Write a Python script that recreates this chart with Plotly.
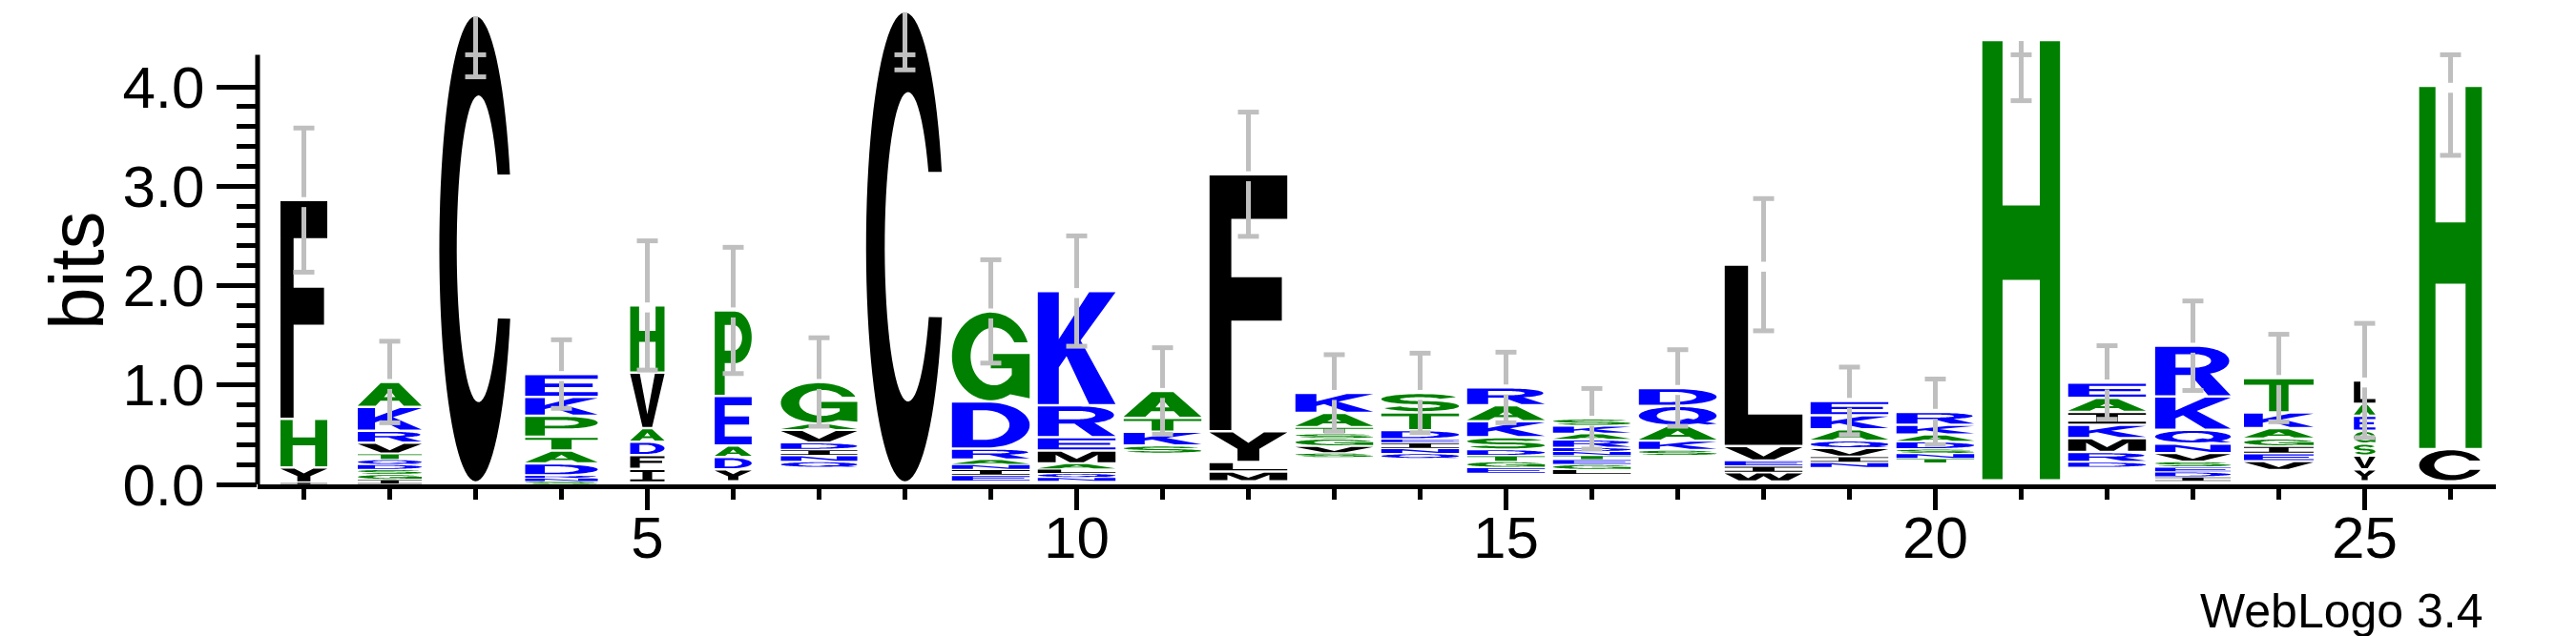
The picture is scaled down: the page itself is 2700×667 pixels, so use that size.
import math
import plotly.graph_objects as go

# ---------------- data ----------------
positions = list(range(1, 27))
# relative stack widths (fraction of non-gap symbols)
stack_widths = [0.545, 0.745, 0.845, 0.845, 0.40, 0.43, 0.89, 0.905, 0.905, 0.905,
                0.905, 0.905, 0.905, 0.905, 0.905, 0.905, 0.905, 0.905, 0.905, 0.905,
                0.905, 0.905, 0.88, 0.81, 0.25, 0.73]
# letters per stack, bottom -> top ('.' = residues too small to render)
stack_letters = [
    "IYHF", "IGSDQTVRKA", ".C", "SNRDATPKE", ".IFDAVH", ".YDAEP", ".QNIDVAG", ".C",
    ".EINARDG", ".NQLAMERK", ".SKTA", ".MLYF", ".SVGSTAK", ".QNIEDTS", ".EGTDSKAR",
    ".LGETNDRAKS", ".SKAQD", ".WIEVL", ".NIVQAKE", ".TNSDAKR", ".H", ".DRMKIAE",
    ".IDESVNQKR", ".VEIGAKT", ".YVSGEAL", ".CH",
]
stack_bits = [
    [0.02, 0.15, 0.49, 2.20],
    [0.05, 0.05, 0.05, 0.05, 0.05, 0.06, 0.11, 0.12, 0.24, 0.25],
    [0.02, 4.70],
    [0.03, 0.03, 0.03, 0.12, 0.13, 0.14, 0.21, 0.19, 0.23],
    [0.02, 0.135, 0.14, 0.135, 0.135, 0.56, 0.675],
    [0.03, 0.12, 0.125, 0.115, 0.50, 0.86],
    [0.17, 0.06, 0.06, 0.06, 0.07, 0.13, 0.06, 0.42],
    [0.02, 4.74],
    [0.03, 0.06, 0.06, 0.05, 0.05, 0.11, 0.475, 0.905],
    [0.03, 0.04, 0.04, 0.045, 0.055, 0.13, 0.135, 0.32, 1.15],
    [0.31, 0.08, 0.14, 0.14, 0.27],
    [0.03, 0.10, 0.095, 0.31, 2.585],
    [0.27, 0.045, 0.07, 0.075, 0.05, 0.065, 0.145, 0.20],
    [0.26, 0.05, 0.05, 0.06, 0.035, 0.09, 0.18, 0.195],
    [0.11, 0.06, 0.06, 0.06, 0.06, 0.125, 0.16, 0.16, 0.18],
    [0.10, 0.05, 0.05, 0.05, 0.04, 0.04, 0.04, 0.08, 0.06, 0.08, 0.07],
    [0.29, 0.055, 0.095, 0.15, 0.20, 0.18],
    [0.03, 0.09, 0.065, 0.055, 0.145, 1.825],
    [0.17, 0.05, 0.06, 0.085, 0.075, 0.115, 0.14, 0.145],
    [0.215, 0.045, 0.05, 0.045, 0.075, 0.07, 0.10, 0.13],
    [0.04, 4.43],
    [0.17, 0.055, 0.10, 0.14, 0.135, 0.13, 0.14, 0.155],
    [0.03, 0.045, 0.05, 0.05, 0.055, 0.085, 0.095, 0.14, 0.335, 0.51],
    [0.145, 0.09, 0.075, 0.075, 0.075, 0.105, 0.16, 0.345],
    [0.03, 0.12, 0.14, 0.12, 0.13, 0.15, 0.12, 0.235],
    [0.03, 0.325, 3.655],
]
error_bits = [0.725, 0.41, 0.62, 0.345, 0.65, 0.635, 0.445, 0.59, 0.52, 0.555,
              0.435, 0.625, 0.385, 0.40, 0.355, 0.305, 0.385, 0.665, 0.34, 0.33,
              0.61, 0.37, 0.45, 0.44, 0.575, 0.70]
y_tick_values = [0, 1, 2, 3, 4]
y_tick_labels = ["0.0", "1.0", "2.0", "3.0", "4.0"]
x_tick_values = [5, 10, 15, 20, 25]

YMAX_AXIS = math.log2(20)

# hydrophobicity colour scheme
COLORS = {}
for c in "SGHTAP":
    COLORS[c] = "#008000"
for c in "RKDENQ":
    COLORS[c] = "#0000ff"
for c in "YVMCLFIW":
    COLORS[c] = "#000000"

# ---------------- glyph outlines (unit box) ----------------
def ell(cx, cy, rx, ry, a0, a1, n=40):
    pts = []
    for i in range(n + 1):
        a = math.radians(a0 + (a1 - a0) * i / n)
        pts.append((cx + rx * math.cos(a), cy + ry * math.sin(a)))
    return pts


def stroke(center, hx, hy):
    left, right = [], []
    n = len(center)
    for i, (x, y) in enumerate(center):
        if i == 0:
            dx, dy = center[1][0] - x, center[1][1] - y
        elif i == n - 1:
            dx, dy = x - center[i - 1][0], y - center[i - 1][1]
        else:
            dx, dy = center[i + 1][0] - center[i - 1][0], center[i + 1][1] - center[i - 1][1]
        sx, sy = dx / hx, dy / hy
        L = math.hypot(sx, sy) or 1.0
        nx, ny = -sy / L, sx / L
        left.append((x + nx * hx, y + ny * hy))
        right.append((x - nx * hx, y - ny * hy))
    return left + right[::-1]


def build_glyphs():
    g = {}
    g["A"] = ([[(0, 0), (0.36, 1), (0.64, 1), (1, 0), (0.72, 0), (0.645, 0.22),
                (0.355, 0.22), (0.28, 0)]],
              [[(0.41, 0.38), (0.59, 0.38), (0.5, 0.70)]])
    g["C"] = ([ell(0.5, 0.5, 0.5, 0.5, 18.66, 342.5, 80) +
               ell(0.54, 0.5, 0.30, 0.33, 333.0, 29.0, 60)], [])
    g["G"] = ([ell(0.5, 0.5, 0.5, 0.5, 18.66, 300, 70) +
               [(1.0, 0.02), (1.0, 0.527), (0.50, 0.527), (0.50, 0.364), (0.77, 0.364), (0.77, 0.288)] +
               ell(0.54, 0.5, 0.30, 0.33, -39.9, -331.0, 60)], [])
    g["D"] = ([[(0, 0), (0, 1), (0.45, 1)] + ell(0.45, 0.5, 0.55, 0.5, 90, -90) + [(0.45, 0)]],
              [[(0.27, 0.17), (0.27, 0.83), (0.42, 0.83)] + ell(0.42, 0.5, 0.32, 0.33, 90, -90) + [(0.42, 0.17)]])
    g["E"] = ([[(0, 0), (0, 1), (1, 1), (1, 0.83), (0.27, 0.83), (0.27, 0.59), (0.93, 0.59),
                (0.93, 0.42), (0.27, 0.42), (0.27, 0.17), (1, 0.17), (1, 0)]], [])
    g["F"] = ([[(0, 0), (0, 1), (1, 1), (1, 0.83), (0.28, 0.83), (0.28, 0.60), (0.93, 0.60),
                (0.93, 0.43), (0.28, 0.43), (0.28, 0)]], [])
    g["H"] = ([[(0, 0), (0, 1), (0.26, 1), (0.26, 0.625), (0.74, 0.625), (0.74, 1), (1, 1),
                (1, 0), (0.74, 0), (0.74, 0.455), (0.26, 0.455), (0.26, 0)]], [])
    g["I"] = ([[(0, 0), (0, 0.17), (0.36, 0.17), (0.36, 0.83), (0, 0.83), (0, 1), (1, 1),
                (1, 0.83), (0.64, 0.83), (0.64, 0.17), (1, 0.17), (1, 0)]], [])
    g["K"] = ([[(0, 0), (0, 1), (0.27, 1), (0.27, 0.58), (0.66, 1), (1, 1), (0.55, 0.57),
                (1, 0), (0.66, 0), (0.37, 0.43), (0.27, 0.33), (0.27, 0)]], [])
    g["L"] = ([[(0, 0), (0, 1), (0.30, 1), (0.30, 0.17), (1, 0.17), (1, 0)]], [])
    g["M"] = ([[(0, 0), (0, 1), (0.30, 1), (0.5, 0.32), (0.70, 1), (1, 1), (1, 0), (0.77, 0),
                (0.77, 0.72), (0.59, 0), (0.41, 0), (0.23, 0.72), (0.23, 0)]], [])
    g["N"] = ([[(0, 0), (0, 1), (0.27, 1), (0.73, 0.33), (0.73, 1), (1, 1), (1, 0), (0.73, 0),
                (0.27, 0.67), (0.27, 0)]], [])
    g["P"] = ([[(0, 0), (0, 1), (0.55, 1)] + ell(0.55, 0.69, 0.45, 0.31, 90, -90) +
               [(0.55, 0.38), (0.27, 0.38), (0.27, 0)]],
              [[(0.27, 0.53), (0.27, 0.84), (0.5, 0.84)] + ell(0.5, 0.685, 0.24, 0.155, 90, -90) + [(0.5, 0.53)]])
    g["Q"] = ([ell(0.5, 0.5, 0.5, 0.5, 0, 360, 80),
               [(0.50, 0.22), (0.63, 0.35), (1.0, 0.05), (0.88, 0.0)]],
              [ell(0.5, 0.5, 0.27, 0.33, 0, 360, 60)])
    g["R"] = ([[(0, 0), (0, 1), (0.55, 1)] + ell(0.55, 0.71, 0.43, 0.29, 90, -90) +
               [(0.55, 0.42), (0.27, 0.42), (0.27, 0)],
               [(0.45, 0.46), (0.72, 0.46), (1.0, 0.0), (0.70, 0.0)]],
              [[(0.27, 0.57), (0.27, 0.85), (0.52, 0.85)] + ell(0.52, 0.71, 0.22, 0.14, 90, -90) + [(0.52, 0.57)]])
    center = ell(0.5, 0.705, 0.38, 0.205, 20, 270, 40) + ell(0.5, 0.295, 0.38, 0.205, 90, -160, 40)[1:]
    g["S"] = ([stroke(center, 0.12, 0.09)], [])
    g["T"] = ([[(0, 0.83), (0, 1), (1, 1), (1, 0.83), (0.64, 0.83), (0.64, 0), (0.36, 0), (0.36, 0.83)]], [])
    g["V"] = ([[(0, 1), (0.28, 1), (0.5, 0.24), (0.72, 1), (1, 1), (0.64, 0), (0.36, 0)]], [])
    g["W"] = ([[(0, 1), (0.2, 1), (0.3, 0.33), (0.41, 1), (0.59, 1), (0.70, 0.33), (0.80, 1),
                (1, 1), (0.82, 0), (0.60, 0), (0.5, 0.62), (0.40, 0), (0.18, 0)]], [])
    g["Y"] = ([[(0, 1), (0.30, 1), (0.5, 0.63), (0.70, 1), (1, 1), (0.64, 0.42), (0.64, 0),
                (0.36, 0), (0.36, 0.42)]], [])
    return g


GLYPHS = build_glyphs()


def signed_area(r):
    s = 0.0
    for i in range(len(r)):
        x1, y1 = r[i]
        x2, y2 = r[(i + 1) % len(r)]
        s += x1 * y2 - x2 * y1
    return s / 2


def oriented(r, ccw):
    return r if (signed_area(r) > 0) == ccw else r[::-1]


def glyph_path(letter, xc, w, y0, y1):
    solids, holes = GLYPHS[letter]
    parts = []
    rings = [oriented(r, True) for r in solids] + [oriented(r, False) for r in holes]
    for r in rings:
        pts = ["%.4f,%.4f" % (xc - w / 2 + u * w, y0 + v * (y1 - y0)) for u, v in r]
        parts.append("M" + " L".join(pts) + " Z")
    return " ".join(parts)


# ---------------- figure ----------------
shapes = []
tops = []
for p, w, letters, bits in zip(positions, stack_widths, stack_letters, stack_bits):
    y = 0.0
    for letter, h in zip(letters, bits):
        if letter in GLYPHS:
            pad = min(0.012, 0.12 * h)
            shapes.append(dict(type="path", path=glyph_path(letter, p, w, y + pad, y + h - pad),
                               xref="x", yref="y", fillcolor=COLORS[letter],
                               line=dict(width=0), fillrule="nonzero", layer="above"))
        y += h
    tops.append(y)

ERR_COLOR = "#bfbfbf"
CAP_HALF = 0.122
for p, h, e in zip(positions, tops, error_bits):
    lo = h - e
    if h >= YMAX_AXIS:
        segs = [(lo, h - 0.01)]
        caps = [lo, YMAX_AXIS]
    else:
        top = min(h + e, YMAX_AXIS)
        segs = [(lo, h - 0.07), (h + 0.03, top)]
        caps = [lo, top]
    for a, b in segs:
        shapes.append(dict(type="line", xref="x", yref="y", x0=p, x1=p, y0=a, y1=b,
                           line=dict(color=ERR_COLOR, width=5), layer="above"))
    for c in caps:
        shapes.append(dict(type="line", xref="x", yref="y", x0=p - CAP_HALF, x1=p + CAP_HALF,
                           y0=c, y1=c, line=dict(color=ERR_COLOR, width=5), layer="above"))

# y axis line (only up to log2(20))
shapes.append(dict(type="line", xref="paper", yref="y", x0=0, x1=0, y0=-0.03, y1=YMAX_AXIS,
                   line=dict(color="black", width=5), layer="above"))

FONT = "Liberation Sans, Arial, Helvetica, sans-serif"

fig = go.Figure()
fig.add_trace(go.Scatter(x=positions, y=tops, mode="markers", marker=dict(opacity=0),
                         hoverinfo="x+y", showlegend=False))

minor_y = [round(v * 0.2, 1) for v in range(1, 20) if v % 5 != 0]

fig.update_layout(
    width=2700, height=667,
    margin=dict(l=262, r=92, t=0, b=167),
    paper_bgcolor="white", plot_bgcolor="white",
    shapes=shapes,
    showlegend=False,
    font=dict(family=FONT, color="black"),
    xaxis=dict(range=[0.461, 26.528], tickmode="array", tickvals=x_tick_values,
               ticks="outside", ticklen=22, tickwidth=5, tickcolor="black",
               showline=True, linewidth=5, linecolor="black",
               showgrid=False, zeroline=False, ticklabelstandoff=-24,
               tickfont=dict(size=62, family=FONT, color="black"),
               minor=dict(dtick=1, tick0=0, ticks="outside", ticklen=11, tickwidth=5,
                          tickcolor="black", showgrid=False)),
    yaxis=dict(range=[0, 500 / 104.25], tickmode="array", tickvals=y_tick_values,
               ticktext=y_tick_labels,
               ticks="outside", ticklen=42, tickwidth=5, tickcolor="black",
               showline=False, showgrid=False, zeroline=False,
               tickfont=dict(size=62, family=FONT, color="black"),
               minor=dict(tickmode="array", tickvals=minor_y, ticks="outside", ticklen=21,
                          tickwidth=5, tickcolor="black", showgrid=False)),
    annotations=[
        dict(text="bits", xref="paper", yref="paper", x=-0.081, y=0.45, textangle=-90,
             xanchor="center", yanchor="middle", showarrow=False,
             font=dict(size=80, family=FONT, color="black")),
        dict(text="WebLogo 3.4", xref="paper", yref="paper", x=0.9953, y=-0.266,
             xanchor="right", yanchor="middle", showarrow=False,
             font=dict(size=50, family=FONT, color="black")),
    ],
)

fig.write_html("out.html")
